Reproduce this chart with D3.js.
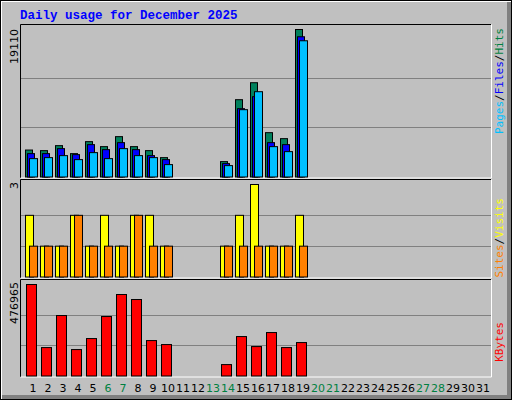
<!DOCTYPE html>
<html><head><meta charset="utf-8">
<script src="https://cdn.jsdelivr.net/npm/d3@7/dist/d3.min.js"></script>
<style>body{margin:0;background:#fff}</style></head>
<body><svg id="c" width="512" height="400"></svg>
<script>
const days = d3.range(1, 32);
const weekends = [6,7,13,14,20,21,27,28];
const hits  = [3494,3416,4063,3028,4581,3934,5228,3934,3416,2510,0,0,0,1993,10016,12215,5745,4969,19110,0,0,0,0,0,0,0,0,0,0,0,0];
const files = [3028,3028,3675,2899,4193,3546,4451,3546,2769,2252,0,0,0,1734,8851,10404,4451,4193,18168,0,0,0,0,0,0,0,0,0,0,0,0];
const pages = [2381,2510,2769,2252,3157,2381,3675,2769,2510,1605,0,0,0,1475,8722,11051,3934,3287,17650,0,0,0,0,0,0,0,0,0,0,0,0];
const visits= [2,1,1,2,1,2,1,2,2,1,0,0,0,1,2,3,1,1,2,0,0,0,0,0,0,0,0,0,0,0,0];
const sites = [1,1,1,2,1,1,1,2,1,1,0,0,0,1,1,1,1,1,1,0,0,0,0,0,0,0,0,0,0,0,0];
const kbytes= [476965,148200,315200,137800,195200,310000,424800,398700,184700,163900,0,0,0,59500,205600,153400,226500,148200,174300,0,0,0,0,0,0,0,0,0,0,0,0];

const svg = d3.select("#c");
svg.append("rect").attr("x",0).attr("y",0).attr("width",512).attr("height",400).attr("fill","#c0c0c0");
svg.append("rect").attr("x",0.5).attr("y",0.5).attr("width",511).attr("height",399).attr("fill","none").attr("stroke","#000");
svg.append("rect").attr("x",1).attr("y",1).attr("width",510).attr("height",1).attr("fill","#fff");
svg.append("rect").attr("x",1).attr("y",1).attr("width",1).attr("height",398).attr("fill","#fff");
svg.append("rect").attr("x",2).attr("y",395).attr("width",509).attr("height",4).attr("fill","#808080");
svg.append("rect").attr("x",507).attr("y",2).attr("width",4).attr("height",397).attr("fill","#808080");

svg.append("text").attr("x",20).attr("y",19).text("Daily usage for December 2025")
  .attr("font-family","Liberation Mono, DejaVu Sans Mono, monospace").attr("font-weight","bold")
  .attr("font-size",12.5).attr("fill","#0000ff");

const x = d3.scaleLinear().domain([1,31]).range([33,483]);
const panels = [{top:25,bot:176.5},{top:180,bot:276.5},{top:280,bot:375.5}];
panels.forEach(p=>{
  svg.append("rect").attr("x",20).attr("y",p.top).attr("width",471).attr("height",p.bot-p.top+1.5).attr("fill","#c0c0c0");
  svg.append("path").attr("d",`M20.5,${p.bot+1.5}V${p.top-0.5}H491`).attr("stroke","#000").attr("fill","none");
  svg.append("path").attr("d",`M20.5,${p.bot+1.5}H491.5V${p.top-0.5}`).attr("stroke","#fff").attr("fill","none");
});

function grid(y, vals){ vals.forEach(v=>svg.append("line").attr("x1",21).attr("x2",491).attr("y1",Math.round(y(v))+0.5).attr("y2",Math.round(y(v))+0.5).attr("stroke","#808080")); }
function bars(data, y, dx0, w, color){
  svg.append("g").selectAll("rect").data(data.map((v,i)=>({v,d:i+1})).filter(o=>o.v>0)).join("rect")
    .attr("x",o=>x(o.d)+dx0+0.5).attr("width",w).attr("y",o=>y(o.v)+0.5).attr("height",o=>y(0)-y(o.v))
    .attr("fill",color).attr("stroke","#000");
}
const y1 = d3.scaleLinear().domain([0,19110]).range([176.5,29]);
grid(y1,[19110/3,19110*2/3]);
bars(hits,y1,-8,7,"#00805c");
bars(files,y1,-6,7,"#0000ff");
bars(pages,y1,-4,8,"#00c0ff");

const y2 = d3.scaleLinear().domain([0,3]).range([276.5,184]);
grid(y2,[1,2]);
bars(visits,y2,-8,8,"#ffff00");
bars(sites,y2,-4,8,"#ff8000");

const y3 = d3.scaleLinear().domain([0,476965]).range([375.5,284]);
grid(y3,[476965/3,476965*2/3]);
bars(kbytes,y3,-7,10,"#ff0000");

svg.append("g").selectAll("text").data(days).join("text")
  .attr("x",d=>x(d)).attr("y",392).attr("text-anchor","middle")
  .attr("font-family","DejaVu Sans, sans-serif").attr("font-size",11)
  .attr("fill",d=>weekends.includes(d)?"#008040":"#000").text(d=>d);

function vlab(xp, yp, t){
  svg.append("text").attr("transform",`translate(${xp},${yp}) rotate(-90)`).attr("text-anchor","end")
    .attr("font-family","DejaVu Sans, sans-serif").attr("font-size",11).text(t);
}
vlab(18,29,"19110"); vlab(18,182,"3"); vlab(18,282,"476965");

function rlab(yp, parts){
  const t = svg.append("text").attr("transform",`translate(503,${yp}) rotate(-90)`).attr("text-anchor","end")
    .attr("font-family","DejaVu Sans Mono, monospace").attr("font-size",11);
  parts.forEach(p=>t.append("tspan").attr("fill",p[1]).text(p[0]));
}
rlab(28,[["Pages","#00c0ff"],["/","#000"],["Files","#0000ff"],["/","#000"],["Hits","#008040"]]);
rlab(198,[["Sites","#ff8000"],["/","#000"],["Visits","#ffff00"]]);
rlab(322,[["KBytes","#ff0000"]]);
</script></body></html>
